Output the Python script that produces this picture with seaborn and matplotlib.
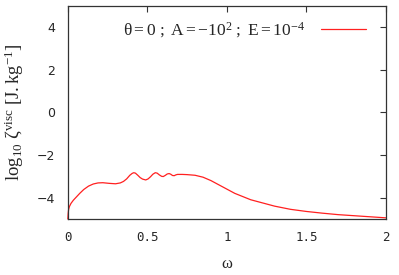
import matplotlib
matplotlib.use("Agg")
import matplotlib.pyplot as plt
import seaborn as sns
import pandas as pd

omega = [0.0, 0.002, 0.005, 0.01, 0.02, 0.035, 0.05, 0.075, 0.1, 0.13, 0.16, 0.19, 0.22, 0.26,
         0.3, 0.33, 0.35, 0.37, 0.39, 0.405, 0.415, 0.425, 0.44, 0.455, 0.47, 0.49, 0.505,
         0.52, 0.535, 0.55, 0.562, 0.575, 0.59, 0.6, 0.612, 0.625, 0.637, 0.647, 0.658,
         0.669, 0.68, 0.69, 0.7, 0.72, 0.75, 0.8, 0.85, 0.9, 0.95, 1.0, 1.05, 1.1,
         1.15, 1.2, 1.3, 1.4, 1.5, 1.6, 1.7, 1.8, 1.9, 2.0]
log_zeta = [-5.0, -4.75, -4.55, -4.42, -4.27, -4.12, -4.0, -3.8, -3.62, -3.46, -3.36, -3.31, -3.3, -3.33,
            -3.35, -3.31, -3.24, -3.12, -2.95, -2.86, -2.83, -2.85, -2.95, -3.06, -3.13, -3.17, -3.12,
            -3.02, -2.9, -2.83, -2.85, -2.93, -3.0, -3.01, -2.96, -2.89, -2.87, -2.9, -2.96,
            -2.97, -2.93, -2.91, -2.91, -2.91, -2.92, -2.95, -3.04, -3.2, -3.4, -3.6, -3.8, -3.95,
            -4.1, -4.2, -4.4, -4.55, -4.65, -4.73, -4.8, -4.85, -4.9, -4.95]
xticks = [0, 0.5, 1, 1.5, 2]
xtick_labels = ["0", "0.5", "1", "1.5", "2"]
yticks = [-4, -2, 0, 2, 4]
ytick_labels = ["\u22124", "\u22122", "0", "2", "4"]
series_label = r"$\mathrm{\theta = 0\ ;\ A = -10^{2}\ ;\ E = 10^{-4}}$"

sns.set_style("white")
plt.rcParams["mathtext.fontset"] = "custom"
plt.rcParams["mathtext.rm"] = "Liberation Serif"
plt.rcParams["mathtext.it"] = "Liberation Serif:italic"

df = pd.DataFrame({"omega": omega, "zeta": log_zeta})

fig = plt.figure(figsize=(3.99, 2.75), dpi=100)
ax = fig.add_axes([0.170, 0.204, 0.797, 0.774])
sns.lineplot(data=df, x="omega", y="zeta", ax=ax, color="#ff2020", linewidth=0.9,
             label=series_label)
for ln in ax.lines:
    ln.set_clip_on(False)

ax.set_xlim(0, 2)
ax.set_ylim(-5, 5)
ax.set_xticks(xticks)
ax.set_xticklabels(xtick_labels, family="DejaVu Sans Mono", fontsize=9)
ax.set_yticks(yticks)
ax.set_yticklabels(ytick_labels, family="DejaVu Sans", fontsize=9)
ax.tick_params(direction="in", length=4, width=0.8, top=True, right=True,
               color="#333333")
ax.tick_params(axis="y", pad=9)
ax.tick_params(axis="x", pad=9)
for s in ax.spines.values():
    s.set_color("#333333")
    s.set_linewidth(0.9)

ax.set_xlabel(r"$\mathrm{\omega}$", fontsize=12, labelpad=7)
ax.set_ylabel(r"$\mathrm{\log_{10}\,\zeta^{visc}\ [J.kg^{-1}]}$", fontsize=13.5, labelpad=8)

leg = ax.legend(loc="upper right", frameon=False, markerfirst=False, fontsize=12.5,
                handlelength=2.6, borderaxespad=0.5, borderpad=0.3, handletextpad=0.9,
                bbox_to_anchor=(0.982, 1.0))

fig.savefig("out.png", dpi=100)
